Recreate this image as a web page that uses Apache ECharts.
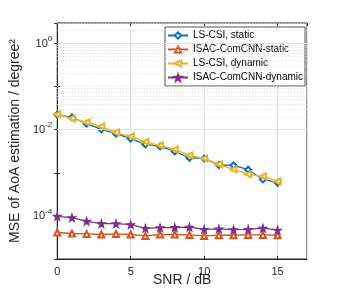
<!DOCTYPE html>
<html><head><meta charset="utf-8">
<script src="https://cdn.jsdelivr.net/npm/echarts@6/dist/echarts.min.js"></script>
<style>html,body{margin:0;padding:0;background:#fff}#c{width:339px;height:299px}</style>
</head><body><div id="c"></div>
<script>
const snr = [0,1,2,3,4,5,6,7,8,9,10,11,12,13,14,15];
const lsStatic = [0.0223,0.0193,0.0138,0.0102,0.0081,0.0062,0.00456,0.0041,0.00314,0.00224,0.00216,0.00152,0.00149,0.00118,0.000703,0.000589];
const cnnStatic = [4.12e-5,3.91e-5,3.82e-5,3.70e-5,3.82e-5,3.70e-5,3.43e-5,3.70e-5,3.70e-5,3.62e-5,3.43e-5,3.56e-5,3.56e-5,3.62e-5,3.62e-5,3.56e-5];
const lsDynamic = [0.0226,0.0183,0.0148,0.0119,0.00866,0.0070,0.00521,0.00432,0.00349,0.00253,0.00216,0.00157,0.0012,0.00092,0.000826,0.00063];
const cnnDynamic = [9.8e-5,9.1e-5,7.5e-5,6.6e-5,6.6e-5,6.25e-5,5.13e-5,5.32e-5,5.37e-5,5.47e-5,4.87e-5,4.99e-5,4.79e-5,4.87e-5,5.19e-5,4.66e-5];
const names = ['LS-CSI, static','ISAC-ComCNN-static','LS-CSI, dynamic','ISAC-ComCNN-dynamic'];
const colors = ['#0072BD','#D95319','#EDB120','#7E2F8E'];
const xTicks = [0,5,10,15];
const yMajor = [1e-4,1e-2,1];

const FONT = 'Liberation Sans, Arial, Helvetica, sans-serif';
const TXT = '#262626';
const star = 'path://M50,0 L61.8,35.5 L100,35.5 L69.1,57.4 L80.9,93 L50,71 L19.1,93 L30.9,57.4 L0,35.5 L38.2,35.5 Z';

// minor grid values
const yMinor = [];
for (let d = -5; d <= 0; d++) {
  for (let k = 1; k <= 9; k++) {
    const v = k * Math.pow(10, d);
    if (v > 3) continue;
    if (k === 1 && (d % 2 === 0 || d === -5)) continue;
    yMinor.push(v);
  }
}

function pairs(arr){ return snr.map((x,i)=>[x,arr[i]]); }

const chart = echarts.init(document.getElementById('c'), null, {renderer:'canvas'});
const mkSeries = (i, data, symbol, size, rot) => ({
  name: names[i], type: 'line', data: pairs(data),
  symbol: symbol, symbolSize: size, symbolRotate: rot || 0,
  lineStyle: {color: colors[i], width: 1.3},
  itemStyle: {color: colors[i], borderColor: colors[i], borderWidth: 1.2},
  emphasis: {disabled: true}, animation: false, z: 3 + i
});
chart.setOption({
  backgroundColor: '#fff',
  animation: false,
  textStyle: {fontFamily: FONT, color: TXT},
  grid: {left: 53, top: 23, right: 32, bottom: 40, show: true, borderColor: TXT, borderWidth: 1, backgroundColor: 'transparent'},
  legend: {
    data: names, orient: 'vertical', left: 165, top: 27,
    padding: [3, 2, 3, 2], itemGap: 3, itemWidth: 20, itemHeight: 8,
    borderColor: TXT, borderWidth: 0.8, backgroundColor: '#fff',
    textStyle: {fontSize: 10, color: '#000', fontFamily: FONT, lineHeight: 11},
    selectedMode: false
  },
  xAxis: [{
    type: 'value', min: 0, max: 17, interval: 5,
    name: 'SNR / dB', nameLocation: 'middle', nameGap: 14, nameMoveOverlap: false,
    nameTextStyle: {fontSize: 14, color: TXT, fontFamily: FONT},
    axisLine: {show: true, lineStyle: {color: TXT, width: 1}},
    axisTick: {show: true, inside: true, length: 3, lineStyle: {color: TXT}},
    axisLabel: {fontSize: 11, color: TXT, margin: 7, fontFamily: FONT, showMaxLabel: false,
      formatter: v => xTicks.indexOf(v) >= 0 ? String(v) : ''},
    splitLine: {show: true, lineStyle: {color: '#e3e3e3', width: 1}}
  },{
    type: 'value', min: 0, max: 17, interval: 5, position: 'top',
    axisLine: {show: false}, axisLabel: {show: false}, splitLine: {show: false},
    axisTick: {show: true, inside: true, length: 3, lineStyle: {color: TXT}}
  }],
  yAxis: [{
    type: 'log', logBase: 10, min: 1e-5, max: 3, interval: 1,
    name: 'MSE of AoA estimation / degree\u00B2', nameLocation: 'middle', nameGap: 32,
    nameTextStyle: {fontSize: 14, color: TXT, fontFamily: FONT},
    axisLine: {show: true, lineStyle: {color: TXT, width: 1}},
    axisTick: {show: true, inside: true, length: 3, lineStyle: {color: TXT}},
    axisLabel: {color: TXT, margin: 5, fontFamily: FONT, showMaxLabel: false,
      formatter: v => {
        const l = Math.log10(v), e = Math.round(l);
        if (Math.abs(l - e) > 1e-6 || e % 2 !== 0) return '';
        return '{b|10}{s|' + e + '}';
      },
      rich: {b: {fontSize: 11, color: TXT, fontFamily: FONT}, s: {fontSize: 8, color: TXT, fontFamily: FONT, padding: [0,0,9,0]}}
    },
    splitLine: {show: false}
  },{
    type: 'log', logBase: 10, min: 1e-5, max: 3, interval: 1, position: 'right',
    axisLine: {show: false}, axisLabel: {show: false}, splitLine: {show: false},
    axisTick: {show: true, inside: true, length: 3, lineStyle: {color: TXT}}
  }],
  series: [
    {
      type: 'line', data: [], silent: true, z: 1,
      markLine: {
        silent: true, symbol: ['none','none'], label: {show: false}, animation: false,
        data: yMinor.map(v => ({yAxis: v, lineStyle: {color: '#dcdcdc', type: [1,2], width: 1}}))
          .concat(yMajor.map(v => ({yAxis: v, lineStyle: {color: '#e3e3e3', type: 'solid', width: 1}})))
      }
    },
    mkSeries(0, lsStatic, 'emptyDiamond', 6),
    mkSeries(1, cnnStatic, 'emptyTriangle', 6),
    mkSeries(2, lsDynamic, 'emptyTriangle', 6, 90),
    mkSeries(3, cnnDynamic, star, 7.5)
  ]
});
</script></body></html>
